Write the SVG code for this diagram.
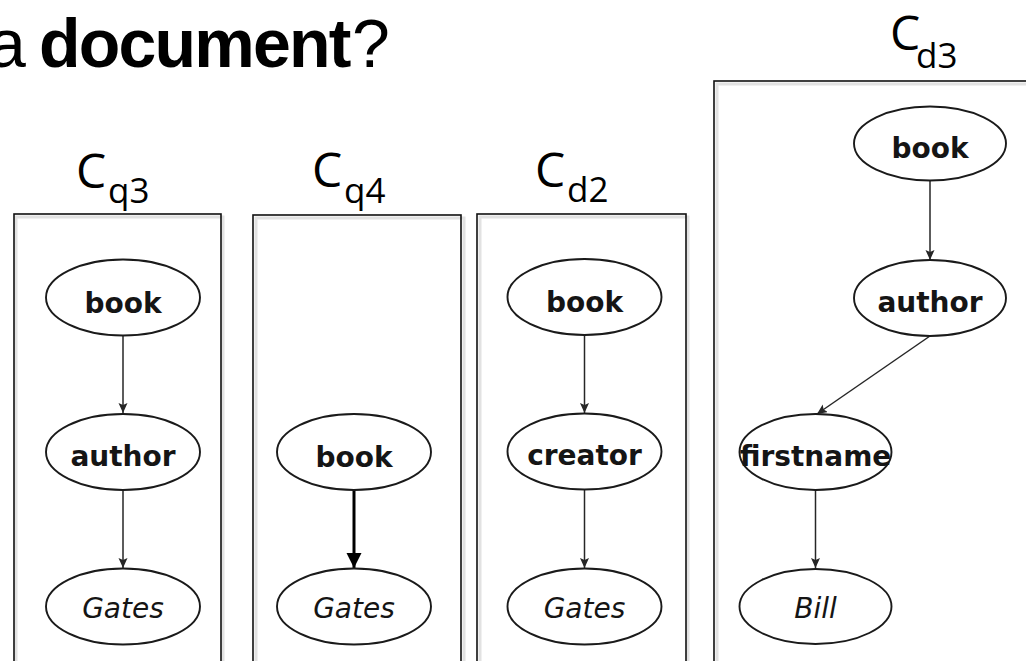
<svg xmlns="http://www.w3.org/2000/svg" width="1026" height="661" viewBox="0 0 1026 661">
  <style>
    .title { font-family: "Liberation Sans", "Open Sans", sans-serif; font-size: 68px; fill: #000; }
    .cap { font-family: "Open Sans", "Liberation Sans", sans-serif; font-size: 48px; fill: #000; }
    .sub { font-size: 35px; }
    .frame { fill: none; stroke: #111; stroke-width: 1.6; }
    .frame-shadow { fill: none; stroke: #e2e2e2; stroke-width: 3; }
    .node ellipse { fill: #fff; stroke: #1a1a1a; stroke-width: 1.9; }
    .lbl { font-family: "DejaVu Sans", "Liberation Sans", sans-serif; font-size: 28px; font-weight: bold; fill: #151515; text-anchor: middle; }
    .val { font-family: "DejaVu Sans", "Liberation Sans", sans-serif; font-size: 28px; font-style: italic; fill: #151515; text-anchor: middle; }
    .edge { stroke: #262626; stroke-width: 1.5; fill: none; }
    .edge-bold { stroke: #000; stroke-width: 3; fill: none; }
  </style>
  <defs>
    <marker id="tip" markerUnits="userSpaceOnUse" markerWidth="11" markerHeight="10" refX="10" refY="4.5" orient="auto">
      <path d="M0,0 L10,4.5 L0,9 L2,4.5 z" fill="#262626"/>
    </marker>
    <marker id="tip-bold" markerUnits="userSpaceOnUse" markerWidth="16" markerHeight="16" refX="15" refY="7.5" orient="auto">
      <path d="M0,0 L15,7.5 L0,15 z" fill="#000"/>
    </marker>
  </defs>

  <rect width="1026" height="661" fill="#fff"/>

  <!-- heading -->
  <g id="heading">
    <text class="title" x="-12" y="67">a<tspan x="39" font-weight="bold" letter-spacing="-1.8">document</tspan><tspan x="352">?</tspan></text>
  </g>

  <!-- panel frames -->
  <g id="frames">
    <rect class="frame-shadow" x="16" y="217" width="207" height="500"/>
    <rect class="frame" x="14" y="214" width="207" height="500"/>
    <rect class="frame-shadow" x="256" y="218" width="208" height="500"/>
    <rect class="frame" x="253" y="215" width="208" height="500"/>
    <rect class="frame-shadow" x="480" y="217" width="208" height="500"/>
    <rect class="frame" x="477" y="214" width="209" height="500"/>
    <rect class="frame-shadow" x="717" y="84" width="340" height="640"/>
    <rect class="frame" x="714" y="81" width="340" height="640"/>
  </g>

  <!-- panel captions -->
  <g id="captions">
    <text class="cap" x="76" y="188">C<tspan class="sub" x="108" y="203">q3</tspan></text>
    <text class="cap" x="312" y="187">C<tspan class="sub" x="344" y="203">q4</tspan></text>
    <text class="cap" x="535" y="187">C<tspan class="sub" x="567" y="202">d2</tspan></text>
    <text class="cap" x="890" y="50">C<tspan class="sub" x="916" y="68">d3</tspan></text>
  </g>

  <!-- connectors -->
  <g id="connectors">
    <line class="edge" x1="123" y1="336" x2="123" y2="413" marker-end="url(#tip)"/>
    <line class="edge" x1="123" y1="490" x2="123" y2="568" marker-end="url(#tip)"/>
    <line class="edge-bold" x1="354" y1="490" x2="354" y2="568" marker-end="url(#tip-bold)"/>
    <line class="edge" x1="584.5" y1="335" x2="584.5" y2="413" marker-end="url(#tip)"/>
    <line class="edge" x1="584.5" y1="490" x2="584.5" y2="568" marker-end="url(#tip)"/>
    <line class="edge" x1="930" y1="181" x2="930" y2="260" marker-end="url(#tip)"/>
    <line class="edge" x1="930" y1="336" x2="817" y2="414" marker-end="url(#tip)"/>
    <line class="edge" x1="815.5" y1="490" x2="815.5" y2="568" marker-end="url(#tip)"/>
  </g>

  <!-- C_q3 -->
  <g id="q3-book" class="node">
    <ellipse cx="123" cy="297.5" rx="77" ry="38"/>
    <text class="lbl" x="123" y="313">book</text>
  </g>
  <g id="q3-author" class="node">
    <ellipse cx="123" cy="452" rx="77" ry="38"/>
    <text class="lbl" x="123" y="466">author</text>
  </g>
  <g id="q3-gates" class="node">
    <ellipse cx="123" cy="606.5" rx="77" ry="38"/>
    <text class="val" x="123" y="618">Gates</text>
  </g>

  <!-- C_q4 -->
  <g id="q4-book" class="node">
    <ellipse cx="354" cy="452" rx="77" ry="38"/>
    <text class="lbl" x="354" y="467">book</text>
  </g>
  <g id="q4-gates" class="node">
    <ellipse cx="354" cy="606.5" rx="77" ry="38"/>
    <text class="val" x="354" y="618">Gates</text>
  </g>

  <!-- C_d2 -->
  <g id="d2-book" class="node">
    <ellipse cx="584.5" cy="297" rx="77" ry="38"/>
    <text class="lbl" x="584.5" y="312">book</text>
  </g>
  <g id="d2-creator" class="node">
    <ellipse cx="584.5" cy="451.5" rx="77" ry="38"/>
    <text class="lbl" x="584.5" y="465">creator</text>
  </g>
  <g id="d2-gates" class="node">
    <ellipse cx="584.5" cy="606.5" rx="77" ry="38"/>
    <text class="val" x="584.5" y="618">Gates</text>
  </g>

  <!-- C_d3 -->
  <g id="d3-book" class="node">
    <ellipse cx="930" cy="143.5" rx="76" ry="37"/>
    <text class="lbl" x="930" y="158">book</text>
  </g>
  <g id="d3-author" class="node">
    <ellipse cx="930" cy="298" rx="76" ry="38"/>
    <text class="lbl" x="930" y="312">author</text>
  </g>
  <g id="d3-firstname" class="node">
    <ellipse cx="815.5" cy="452" rx="76" ry="38"/>
    <text class="lbl" x="815.5" y="466">firstname</text>
  </g>
  <g id="d3-bill" class="node">
    <ellipse cx="815.5" cy="606.5" rx="76" ry="37.5"/>
    <text class="val" x="815.5" y="618">Bill</text>
  </g>
</svg>
